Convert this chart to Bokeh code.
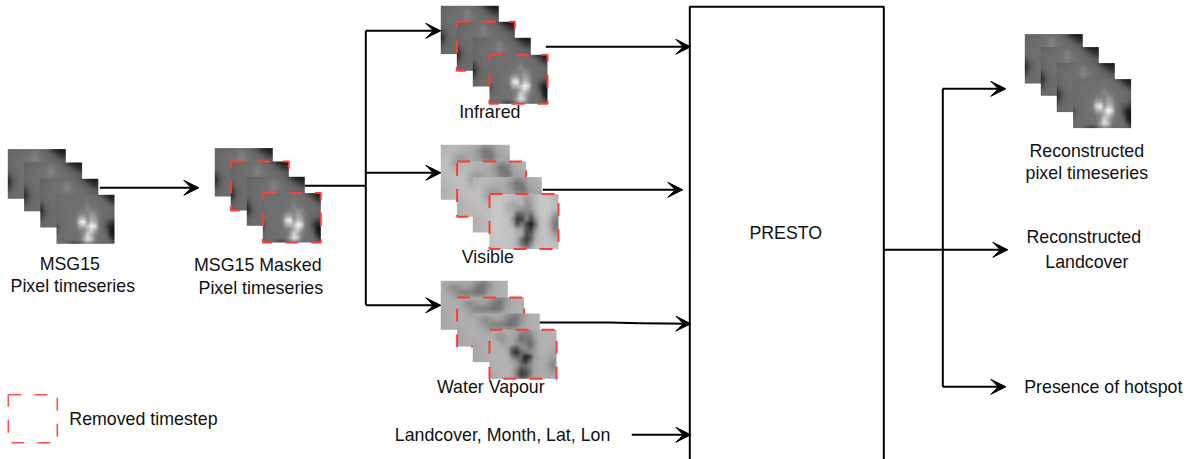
import numpy as np
from bokeh.plotting import figure
from bokeh.models import Range1d, ColumnDataSource, Arrow, VeeHead, LinearColorMapper
from bokeh.palettes import Greys256
from bokeh.embed import file_html
from bokeh.resources import INLINE
from bokeh.core.properties import value

# --- thumbnails: coarse grey levels (row 0 = top) ---
IR_BACK = [
 [ 98,102,104,106,108,110,106,100, 75, 35, 22, 32],
 [102,106,108,110,114,128,114,108,102, 85, 55, 45],
 [104,108,110,112,116,132,118,110,108,104, 96, 85],
 [104,108,110,110,112,116,112,110,108,106,100, 95],
 [ 96,106,110,110,110,110,110,110,108,106,100, 95],
 [ 62, 98,110,110,110,110,110,110,108,106, 95, 72],
 [ 40, 90,108,110,110,110,110,110,108,106, 72, 40],
 [ 68,100,108,110,110,110,110,110,108,106, 72, 35],
 [ 98,106,108,110,110,110,110,110,108,106, 95, 55],
 [102,106,108,108,108,108,108,108,108,106,104, 90],
]
IR_HOT = [
 [108,108,108,108,108,110,110,112,112,110,108, 95, 70, 45, 30, 30],
 [108,110,110,110,110,110,112,112,115,112,110,108,100, 80, 50, 40],
 [108,110,110,110,110,112,112,114,125,116,112,110,108,105, 90, 75],
 [108,110,110,112,112,112,114,118,138,122,118,112,110,108,108,100],
 [108,110,110,112,112,114,125,130,128,150,135,114,110,108,105,100],
 [106,110,110,112,112,118,160,165,135,165,150,118,110,105,100, 90],
 [105,108,110,112,112,125,220,245,145,190,170,118,108, 90, 70, 55],
 [ 78,104,110,112,112,118,170,185,190,250,225,120,105, 70, 35, 25],
 [ 85,106,110,112,112,112,125,130,175,210,165,118,108, 85, 30, 18],
 [105,110,110,110,112,112,115,145,215,175,130,112,110,100, 45, 20],
 [106,110,110,110,110,112,118,165,225,195,125,110,110,108, 80, 35],
 [108,108,105, 95, 70, 65, 85,112,135,125,110,108,108,108,105, 85],
]
VIS_BACK = [
 [175,180,182,182,178,175,165,145,155,170,178,182],
 [180,185,182,178,172,170,145,115,125,165,172,178],
 [185,190,172,155,165,168,155,125,118,155,165,170],
 [190,190,168,155,155,168,168,155,135,168,165,155],
 [190,190,180,175,170,170,170,165,165,175,170,160],
 [185,190,190,185,180,180,180,180,180,180,175,170],
 [180,185,190,190,185,185,185,185,185,185,180,175],
 [175,180,185,190,190,190,190,190,190,190,185,180],
 [175,180,185,190,190,190,190,190,190,190,190,185],
 [180,180,185,190,190,190,190,190,190,190,190,190],
]
VIS_HOT = [
 [185,190,195,195,195,190,185,180,165,175,185,195,195,190,180,175],
 [190,198,198,195,190,185,185,178,155,165,185,198,198,195,185,180],
 [190,198,198,190,175,165,170,175,145,160,185,198,198,198,190,185],
 [195,200,198,188,170,175,150,150,140,150,180,198,200,198,185,178],
 [195,200,198,192,185,170, 95,100,130,110,170,195,200,190,160,150],
 [195,200,198,195,190,150, 55, 70,135, 70,145,190,198,180,135,125],
 [195,200,198,195,195,170, 80,125, 70, 25,110,185,195,178,125,115],
 [195,200,198,195,195,190,165,160, 85, 60,145,190,195,180,135,125],
 [192,198,198,195,195,190,180,165, 75, 95,170,192,195,188,160,150],
 [190,198,198,195,195,190,170,105, 60,100,175,192,195,192,180,175],
 [190,195,198,195,195,190,170,115, 85,140,185,192,195,195,190,185],
 [185,190,195,195,195,190,185,165,150,170,190,192,195,195,195,190],
]
WV_BACK = [
 [170,170,172,170,168,165,150,128,150,172,175,178],
 [172,158,140,150,162,150,120,118,150,172,175,178],
 [175,165,150,130,128,128,112,122,158,172,175,178],
 [175,172,165,155,150,160,150,160,172,175,175,178],
 [175,175,172,170,170,170,170,172,172,175,175,175],
 [170,175,175,175,175,175,175,175,175,175,172,170],
 [165,170,175,175,175,175,175,175,175,175,170,165],
 [165,170,175,175,175,175,175,175,175,175,170,165],
 [165,170,172,175,175,175,175,175,175,175,172,170],
 [168,170,172,172,172,172,172,172,172,172,172,172],
]
WV_HOT = [
 [170,172,175,175,175,172,168,150,140,150,168,175,178,178,178,178],
 [172,170,150,155,172,170,160,125,125,135,165,175,178,178,178,178],
 [175,170,155,150,165,170,145,110,125,115,150,175,178,178,178,178],
 [178,178,170,160,165,165,145,135,130,100,140,172,178,178,175,175],
 [178,178,178,172,165,110, 85,140,145,120,145,172,178,178,172,170],
 [178,178,178,178,170, 80, 45,100,120,140,160,172,178,175,168,165],
 [178,178,178,178,175,125, 95,105, 30, 60,150,170,175,170,158,155],
 [175,178,178,178,178,165,145, 95, 50,110,160,170,172,165,145,148],
 [172,178,178,178,178,172,155,115,110,135,165,170,170,160,135,145],
 [170,175,178,178,178,170,130, 75, 85,120,165,170,170,165,145,155],
 [168,172,178,178,178,170,125, 60, 65,115,165,172,172,170,165,168],
 [168,170,175,175,175,172,150,105,110,150,170,172,172,172,172,172],
]

# --- frame stacks: x, top, bottom per frame, width, which thumbnail, which frames are masked ---
stack_x = [
 [8, 24.3, 40.5, 56.7], [215, 231, 247, 263], [441, 457, 473, 489.7],
 [441, 457.3, 473, 489.7], [441, 457.3, 473, 489.7], [1025, 1041, 1057, 1073.3],
]
stack_top = [
 [149.3, 162.7, 179, 195], [148.3, 161.7, 177, 193.3], [6, 22, 38, 55],
 [145, 161.7, 177.3, 194.3], [281, 297.7, 313.7, 330], [34.3, 47.3, 63.3, 79.3],
]
stack_bottom = [
 [199, 211.5, 227.7, 244], [196.7, 210.7, 226, 242.7], [54.3, 71, 86.7, 104],
 [200, 217, 232.7, 249.3], [330, 346.7, 362.3, 379], [83.7, 96, 112.3, 128.3],
]
stack_w = [58, 58, 58, 69, 67, 58]
stack_back = [IR_BACK, IR_BACK, IR_BACK, VIS_BACK, WV_BACK, IR_BACK]
stack_front = [IR_HOT, IR_HOT, IR_HOT, VIS_HOT, WV_HOT, IR_HOT]
stack_masked = [[], [1, 3], [1, 3], [1, 3], [1, 3], []]

# --- connectors ---
trunk_xs = [[305, 366], [366, 366], [943, 943], [540, 610, 640]]
trunk_ys = [[186, 186], [31, 305], [89, 387], [322.7, 322.7, 323.4]]
arrow_x0 = [100, 366, 366, 366, 546, 543, 640, 632, 943, 884, 943]
arrow_y0 = [188, 31, 173, 305.5, 47, 190, 323.4, 435, 89, 250, 387]
arrow_x1 = [199, 441, 441, 441, 691, 683, 691, 691, 1006, 1008, 1006]
arrow_y1 = [188, 31, 173, 305.5, 47, 190, 324, 435, 89, 250, 387]

# --- PRESTO box and legend ---
box_left, box_right, box_top, box_bottom = 690, 884, 7, 480
legend_box = (8.5, 395, 49, 48)

# --- texts ---
label_text = ["MSG15", "Pixel timeseries", "MSG15 Masked", "Pixel timeseries", "Infrared", "Visible",
              "Water Vapour", "PRESTO", "Reconstructed", "pixel timeseries", "Reconstructed", "Landcover",
              "Presence of hotspot"]
label_x = [70, 73, 258, 261, 490, 488, 491, 786, 1087, 1087, 1084, 1087, 1103.5]
label_y = [264, 286, 265, 288, 112, 257, 387, 233, 151, 173, 237, 262, 387]
left_text = ["Removed timestep", "Landcover, Month, Lat, Lon"]
left_x = [69.5, 395]
left_y = [419, 435]

FS = "17.8px"
RED = "#ff3b3b"


def smooth(grid, w, h):
    a = np.asarray(grid, dtype=float)
    ny, nx = a.shape
    yi = np.linspace(0, ny - 1, h * 2)
    xi = np.linspace(0, nx - 1, w * 2)
    rows = np.array([np.interp(xi, np.arange(nx), r) for r in a])
    out = np.array([np.interp(yi, np.arange(ny), c) for c in rows.T]).T
    return out


p = figure(width=1190, height=459, output_backend="svg", toolbar_location=None,
           x_range=Range1d(0.7, 1190.7), y_range=Range1d(459.7, 0.7),
           min_border=0, outline_line_color=None, background_fill_color="white")
p.axis.visible = False
p.grid.visible = False

mapper = LinearColorMapper(palette=Greys256, low=0, high=255)

for xs, tops, bottoms, w, back, front, masked in zip(stack_x, stack_top, stack_bottom, stack_w,
                                                     stack_back, stack_front, stack_masked):
    for i, (x, t, b) in enumerate(zip(xs, tops, bottoms)):
        grid = front if i == 3 else back
        h = b - t
        p.image(image=[smooth(grid, int(w), int(h))], x=x, y=t, dw=w, dh=h, color_mapper=mapper)
        if i in masked:
            p.line([x, x + w, x + w, x, x], [t, t, b, b, t], line_color=RED, line_width=2, line_dash="13 13")

p.multi_line(trunk_xs, trunk_ys, line_color="black", line_width=2)
p.line([box_left, box_left, box_right, box_right, box_left],
       [box_bottom, box_top, box_top, box_bottom, box_bottom], line_color="black", line_width=2)

src = ColumnDataSource(dict(x0=arrow_x0, y0=arrow_y0, x1=arrow_x1, y1=arrow_y1))
p.add_layout(Arrow(end=VeeHead(size=15, fill_color="black", line_color="black", line_width=1),
                   x_start="x0", y_start="y0", x_end="x1", y_end="y1", source=src,
                   line_color="black", line_width=2))

lx, ly, lw, lh = legend_box
p.line([lx, lx + lw, lx + lw, lx, lx], [ly, ly, ly + lh, ly + lh, ly], line_color="#ff5050",
       line_width=1.6, line_dash="13 13")

p.text(label_x, label_y, text=label_text, text_align="center", text_baseline="middle",
       text_font=value("Liberation Sans"), text_font_size=FS, text_color="#111111")
p.text(left_x, left_y, text=left_text, text_align="left", text_baseline="middle",
       text_font=value("Liberation Sans"), text_font_size=FS, text_color="#111111")

open("out.html", "w").write(file_html(p, INLINE))
